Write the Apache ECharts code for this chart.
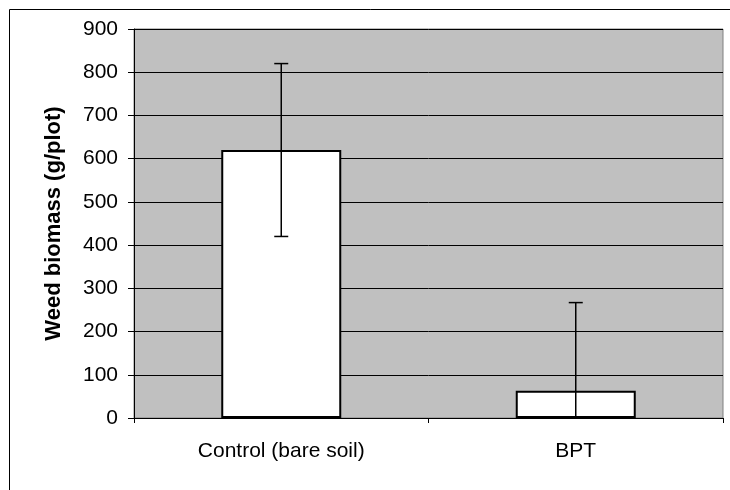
<!DOCTYPE html>
<html>
<head>
<meta charset="utf-8">
<script src="https://cdn.jsdelivr.net/npm/echarts@6/dist/echarts.min.js"></script>
<style>
  html, body { margin: 0; padding: 0; background: #fff; }
  #chart { width: 730px; height: 490px; }
</style>
</head>
<body>
<div id="chart"></div>
<script>
// data
const categories = ['Control (bare soil)', 'BPT'];
const biomass = [620, 63];
const errors = [200, 204];
const yTicks = { min: 0, max: 900, interval: 100 };

const chart = echarts.init(document.getElementById('chart'));

// error bars as [index, mean, err]
const errData = categories.map((c, i) => [i, biomass[i], errors[i]]);

const option = {
  animation: false,
  textStyle: { fontFamily: 'Liberation Sans, Arial, sans-serif' },
  graphic: [
    {
      type: 'rect',
      shape: { x: 9.5, y: 9.5, width: 900, height: 700 },
      style: { fill: 'none', stroke: '#000', lineWidth: 1 },
      z: 0
    }
  ],
  grid: {
    left: 134,
    right: 7,
    top: 29,
    bottom: 72,
    show: true,
    backgroundColor: '#C0C0C0',
    borderColor: '#808080',
    borderWidth: 1
  },
  xAxis: {
    type: 'category',
    data: categories,
    axisLine: { lineStyle: { color: '#000', width: 1 } },
    axisTick: { show: true, alignWithLabel: false, length: 5, lineStyle: { color: '#000' } },
    axisLabel: { color: '#000', fontSize: 21, margin: 23 },
    splitLine: { show: false }
  },
  yAxis: {
    type: 'value',
    min: yTicks.min,
    max: yTicks.max,
    interval: yTicks.interval,
    name: 'Weed biomass (g/plot)',
    nameLocation: 'middle',
    nameGap: 69,
    nameTextStyle: { color: '#000', fontSize: 22, fontWeight: 'bold' },
    axisLine: { show: true, lineStyle: { color: '#000', width: 1 } },
    axisTick: { show: true, length: 6, lineStyle: { color: '#000' } },
    axisLabel: { color: '#000', fontSize: 21, margin: 16 },
    splitLine: { show: true, lineStyle: { color: '#000', width: 1 } }
  },
  series: [
    {
      type: 'bar',
      data: biomass,
      barWidth: 120,
      itemStyle: { color: '#fff', borderColor: '#000', borderWidth: 2 },
      z: 3
    },
    {
      type: 'custom',
      data: errData,
      z: 4,
      renderItem: function (params, api) {
        const i = api.value(0);
        const m = api.value(1);
        const e = api.value(2);
        const hi = api.coord([i, m + e]);
        const lo = api.coord([i, Math.max(0, m - e)]);
        const cap = 7;
        const children = [
          { type: 'line', shape: { x1: hi[0], y1: hi[1], x2: lo[0], y2: lo[1] },
            style: { stroke: '#000', lineWidth: 1.5 } },
          { type: 'line', shape: { x1: hi[0] - cap, y1: hi[1], x2: hi[0] + cap, y2: hi[1] },
            style: { stroke: '#000', lineWidth: 1.5 } }
        ];
        if (m - e > 0) {
          children.push({ type: 'line', shape: { x1: lo[0] - cap, y1: lo[1], x2: lo[0] + cap, y2: lo[1] },
            style: { stroke: '#000', lineWidth: 1.5 } });
        }
        return { type: 'group', children: children };
      }
    }
  ]
};

chart.setOption(option);
</script>
</body>
</html>
